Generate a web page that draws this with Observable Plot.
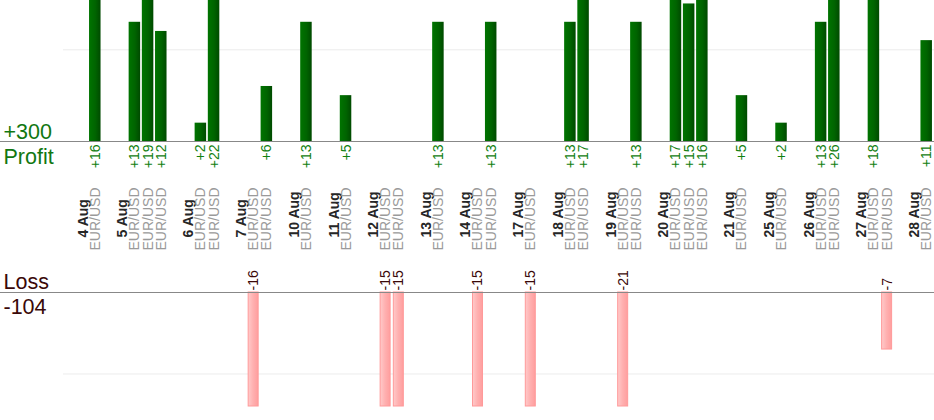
<!DOCTYPE html>
<html><head><meta charset="utf-8">
<script src="https://cdn.jsdelivr.net/npm/d3@7"></script>
<script src="https://cdn.jsdelivr.net/npm/@observablehq/plot@0.6"></script>
<style>
html,body{margin:0;padding:0;background:#fff;}
#chart{width:934px;height:420px;overflow:hidden;}
#chart svg{display:block;}
</style></head><body><div id="chart"></div>
<script>
// ---- data ----
const tradeDates = [
  "4 Aug",
  "5 Aug","5 Aug","5 Aug",
  "6 Aug","6 Aug",
  "7 Aug","7 Aug",
  "10 Aug",
  "11 Aug",
  "12 Aug","12 Aug",
  "13 Aug",
  "14 Aug","14 Aug",
  "17 Aug",
  "18 Aug","18 Aug",
  "19 Aug","19 Aug",
  "20 Aug","20 Aug","20 Aug",
  "21 Aug",
  "25 Aug",
  "26 Aug","26 Aug",
  "27 Aug","27 Aug",
  "28 Aug"
];
const tradePairs = tradeDates.map(() => "EUR/USD");
const tradeResults = [
  16,
  13, 19, 12,
  2, 22,
  -16, 6,
  13,
  5,
  -15, -15,
  13,
  -15, 13,
  -15,
  13, 17,
  -21, 13,
  17, 15, 16,
  5,
  2,
  13, 26,
  18, -7,
  11
];
const profitGridValue = 10;
const lossGridValue = 10;

// ---- layout of slots: gap, date, trades per day ----
const trades = tradeDates.map((d, i) => ({
  slot: "t" + i, date: d, pair: tradePairs[i], value: tradeResults[i],
  first: i === 0 || tradeDates[i - 1] !== d
}));
const days = [...new Set(tradeDates)];
const slots = [];
days.forEach(day => {
  slots.push("gap " + day, "date " + day);
  trades.filter(t => t.date === day).forEach(t => slots.push(t.slot));
});
const profits = trades.filter(t => t.value > 0);
const losses = trades.filter(t => t.value < 0);
const totalProfit = d3.sum(profits, t => t.value);
const totalLoss = d3.sum(losses, t => t.value);

const W = 934;
const font = "Arial, 'Liberation Sans', sans-serif";
const xScale = {type: "band", domain: slots, range: [61.8, 932.8], padding: 0, round: false, axis: null};

function gradDefs(id, stops) {
  return () => {
    const defs = d3.create("svg:defs");
    const g = defs.append("linearGradient").attr("id", id)
      .attr("x1", 0).attr("x2", 1).attr("y1", 0).attr("y2", 0);
    stops.forEach(([o, c]) => g.append("stop").attr("offset", o).attr("stop-color", c));
    return defs.node();
  };
}

const topChart = Plot.plot({
  width: W, height: 270,
  marginTop: 0, marginBottom: 129, marginLeft: 63, marginRight: 0,
  style: {fontFamily: font, background: "transparent", overflow: "visible"},
  x: xScale,
  y: {domain: [0, 15.376], range: [141, 0], clamp: true, axis: null},
  marks: [
    gradDefs("profitGrad", [[0, "#007400"], [0.55, "#006400"], [1, "#004a00"]]),
    Plot.ruleY([profitGridValue], {stroke: "#ececec"}),
    Plot.barY(profits, {x: "slot", y: "value", fill: "url(#profitGrad)", insetLeft: 0.85, insetRight: 0.85}),
    Plot.ruleY([0], {stroke: "#888", strokeWidth: 1.2, insetLeft: -63}),
    Plot.text(profits, {x: "slot", y: 0, text: t => "+" + t.value, rotate: -90, textAnchor: "end",
      lineAnchor: "middle", dy: 3, fill: "#118011", fontSize: 14}),
    Plot.text(trades.filter(t => t.first), {x: "slot", y: 0, text: "date", rotate: -90, textAnchor: "start",
      lineAnchor: "middle", dx: -12, dy: 96, fontWeight: "bold", fill: "#262626", fontSize: 14}),
    Plot.text(trades, {x: "slot", y: 0, text: "pair", rotate: -90, textAnchor: "start",
      lineAnchor: "middle", dy: 109, fill: "#9a9a9a", fontSize: 14}),
    Plot.text([totalProfit], {y: 0, frameAnchor: "left", text: d => "+" + d, textAnchor: "start",
      lineAnchor: "bottom", dx: -60, dy: -3, fill: "#117711", fontSize: 21.5}),
    Plot.text(["Profit"], {y: 0, frameAnchor: "left", text: d => d, textAnchor: "start",
      lineAnchor: "top", dx: -60, dy: 7, fill: "#117711", fontSize: 21.5})
  ]
});

const bottomChart = Plot.plot({
  width: W, height: 150,
  marginTop: 22, marginBottom: 14, marginLeft: 63, marginRight: 0,
  style: {fontFamily: font, background: "transparent", overflow: "visible"},
  x: xScale,
  y: {domain: [0, 13.99], range: [22, 136], clamp: true, axis: null},
  marks: [
    gradDefs("lossGrad", [[0, "#ffcaca"], [0.5, "#ffb0b0"], [1, "#ff9e9e"]]),
    Plot.ruleY([lossGridValue], {stroke: "#ececec"}),
    Plot.barY(losses, {x: "slot", y: t => -t.value, fill: "url(#lossGrad)", stroke: "#ff9a9a",
      strokeWidth: 1, insetLeft: 1.6, insetRight: 1.6}),
    Plot.ruleY([0], {stroke: "#888", strokeWidth: 1.2, insetLeft: -63}),
    Plot.text(losses, {x: "slot", y: 0, text: t => String(t.value), rotate: -90, textAnchor: "start",
      lineAnchor: "middle", dy: -2, fill: "#3a0808", fontSize: 14}),
    Plot.text(["Loss"], {y: 0, frameAnchor: "left", text: d => d, textAnchor: "start",
      lineAnchor: "bottom", dx: -60, dy: -4, fill: "#3a0808", fontSize: 21.5}),
    Plot.text([totalLoss], {y: 0, frameAnchor: "left", text: d => String(d), textAnchor: "start",
      lineAnchor: "top", dx: -60, dy: 6.5, fill: "#3a0808", fontSize: 21.5})
  ]
});

const chart = document.getElementById("chart");
chart.appendChild(topChart);
chart.appendChild(bottomChart);
</script>
</body></html>
